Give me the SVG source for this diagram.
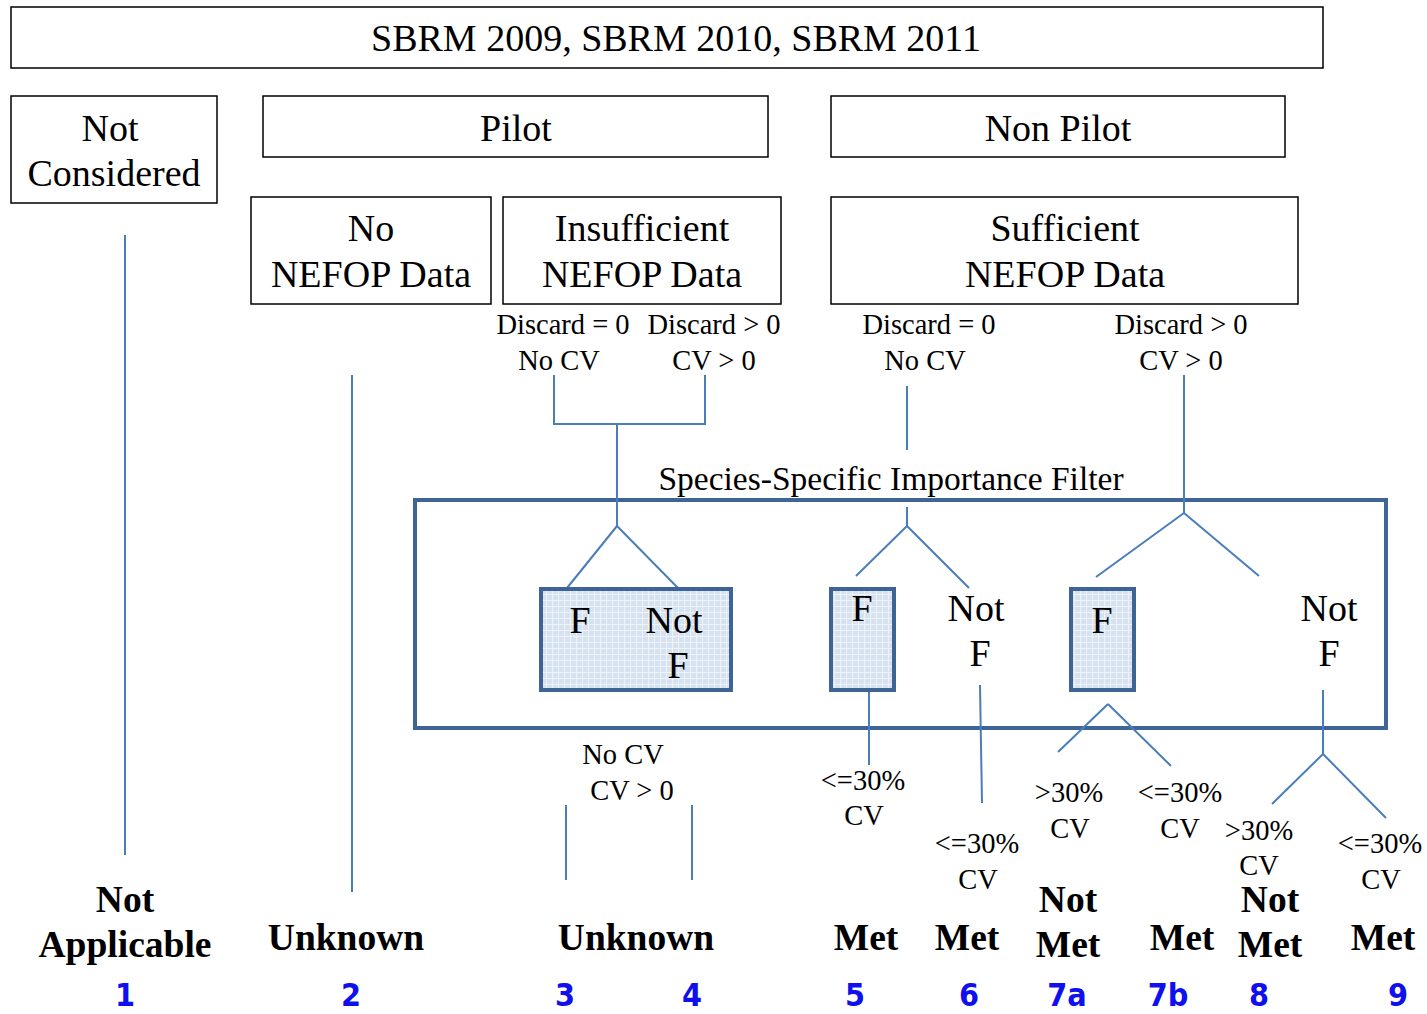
<svg xmlns="http://www.w3.org/2000/svg" width="1427" height="1014" viewBox="0 0 1427 1014">
<defs>
<pattern id="grid" width="6" height="6" patternUnits="userSpaceOnUse">
<rect width="6" height="6" fill="#d7e2f1"/>
<path d="M0 0.5H6M0.5 0V6" stroke="#eef3fa" stroke-width="1"/>
</pattern>
</defs>
<style>
.box{fill:#fff;stroke:#000;stroke-width:1.5}
.t{font-family:"Liberation Serif","Times New Roman",serif;fill:#000;text-anchor:middle}
.h{font-size:38px}
.s{font-size:28.5px}
.b{font-size:37.5px;font-weight:bold}
.n{font-family:"DejaVu Sans Condensed","DejaVu Sans",sans-serif;font-weight:bold;font-size:32px;fill:#1010ee;text-anchor:middle}
.c{fill:none;stroke:#4a7ebb;stroke-width:2}
.fb{fill:url(#grid);stroke:#3e6496;stroke-width:4}
</style>
<g id="top"><rect class="box" x="11" y="7" width="1312" height="61"/><text class="t h" x="676" y="51">SBRM 2009, SBRM 2010, SBRM 2011</text></g>
<g id="notconsidered"><rect class="box" x="11" y="96" width="206" height="107"/><text class="t h" x="110" y="141">Not</text><text class="t h" x="114" y="186">Considered</text></g>
<g id="pilot"><rect class="box" x="263" y="96" width="505" height="61"/><text class="t h" x="516" y="141">Pilot</text></g>
<g id="nonpilot"><rect class="box" x="831" y="96" width="454" height="61"/><text class="t h" x="1058" y="141">Non Pilot</text></g>
<g id="nonefop"><rect class="box" x="251" y="197" width="240" height="107"/><text class="t h" x="371" y="241">No</text><text class="t h" x="371" y="287">NEFOP Data</text></g>
<g id="insufficient"><rect class="box" x="503" y="197" width="278" height="107"/><text class="t h" x="642" y="241">Insufficient</text><text class="t h" x="642" y="287">NEFOP Data</text></g>
<g id="sufficient"><rect class="box" x="831" y="197" width="467" height="107"/><text class="t h" x="1065" y="241">Sufficient</text><text class="t h" x="1065" y="287">NEFOP Data</text></g>
<g id="labels">
<text class="t s" x="563" y="334">Discard = 0</text><text class="t s" x="559" y="370">No CV</text>
<text class="t s" x="714" y="334">Discard &gt; 0</text><text class="t s" x="714" y="370">CV &gt; 0</text>
<text class="t s" x="929" y="334">Discard = 0</text><text class="t s" x="925" y="370">No CV</text>
<text class="t s" x="1181" y="334">Discard &gt; 0</text><text class="t s" x="1181" y="370">CV &gt; 0</text>
<text class="t" style="font-size:33.5px" x="891" y="490">Species-Specific Importance Filter</text>
<text class="t s" x="623" y="764">No CV</text><text class="t s" x="632" y="800">CV &gt; 0</text>
<text class="t s" x="863" y="790">&lt;=30%</text><text class="t s" x="864" y="825">CV</text>
<text class="t s" x="977" y="853">&lt;=30%</text><text class="t s" x="978" y="889">CV</text>
<text class="t s" x="1069" y="802">&gt;30%</text><text class="t s" x="1070" y="838">CV</text>
<text class="t s" x="1180" y="802">&lt;=30%</text><text class="t s" x="1180" y="838">CV</text>
<text class="t s" x="1259" y="840">&gt;30%</text><text class="t s" x="1259" y="875">CV</text>
<text class="t s" x="1380" y="853">&lt;=30%</text><text class="t s" x="1381" y="889">CV</text>
</g>
<g id="filter"><rect x="415" y="500" width="971" height="228" fill="none" stroke="#3f6596" stroke-width="4"/></g>
<g id="connectors">
<path class="c" d="M125 235V855"/>
<path class="c" d="M352 375V892"/>
<path class="c" d="M554 375V424H705V375M617 424V526M617 526L567 588M617 526L678 588"/>
<path class="c" d="M907 386V450M907 507V526M907 526L856 576M907 526L969 588"/>
<path class="c" d="M1184 375V513M1184 513L1096 577M1184 513L1259 576"/>
<path class="c" d="M869 690V765"/>
<path class="c" d="M980 685L982 803"/>
<path class="c" d="M1108 704L1058 752M1108 704L1171 766"/>
<path class="c" d="M1323 690V754M1323 754L1272 804M1323 754L1386 818"/>
<path class="c" d="M566 805V880M692 805V880"/>
</g>
<g id="fbox1"><rect class="fb" x="541" y="589" width="190" height="101"/><text class="t h" x="580" y="633">F</text><text class="t h" x="674" y="633">Not</text><text class="t h" x="678" y="678">F</text></g>
<g id="fbox2"><rect class="fb" x="831" y="589" width="63" height="101"/><text class="t h" x="862" y="621">F</text></g>
<g id="notf1"><text class="t h" x="976" y="621">Not</text><text class="t h" x="980" y="666">F</text></g>
<g id="fbox3"><rect class="fb" x="1071" y="589" width="63" height="101"/><text class="t h" x="1102" y="633">F</text></g>
<g id="notf2"><text class="t h" x="1329" y="621">Not</text><text class="t h" x="1329" y="666">F</text></g>
<g id="outcomes">
<text class="t b" x="125" y="912">Not</text><text class="t b" x="125" y="957">Applicable</text>
<text class="t b" x="346" y="950">Unknown</text>
<text class="t b" x="636" y="950">Unknown</text>
<text class="t b" x="866" y="950">Met</text>
<text class="t b" x="967" y="950">Met</text>
<text class="t b" x="1068" y="912">Not</text><text class="t b" x="1068" y="957">Met</text>
<text class="t b" x="1182" y="950">Met</text>
<text class="t b" x="1270" y="912">Not</text><text class="t b" x="1270" y="957">Met</text>
<text class="t b" x="1383" y="950">Met</text>
</g>
<g id="numbers">
<text class="n" x="125" y="1006">1</text><text class="n" x="351" y="1006">2</text><text class="n" x="565" y="1006">3</text><text class="n" x="692" y="1006">4</text><text class="n" x="855" y="1006">5</text><text class="n" x="969" y="1006">6</text><text class="n" x="1067" y="1006">7a</text><text class="n" x="1168" y="1006">7b</text><text class="n" x="1259" y="1006">8</text><text class="n" x="1398" y="1006">9</text>
</g>
</svg>
